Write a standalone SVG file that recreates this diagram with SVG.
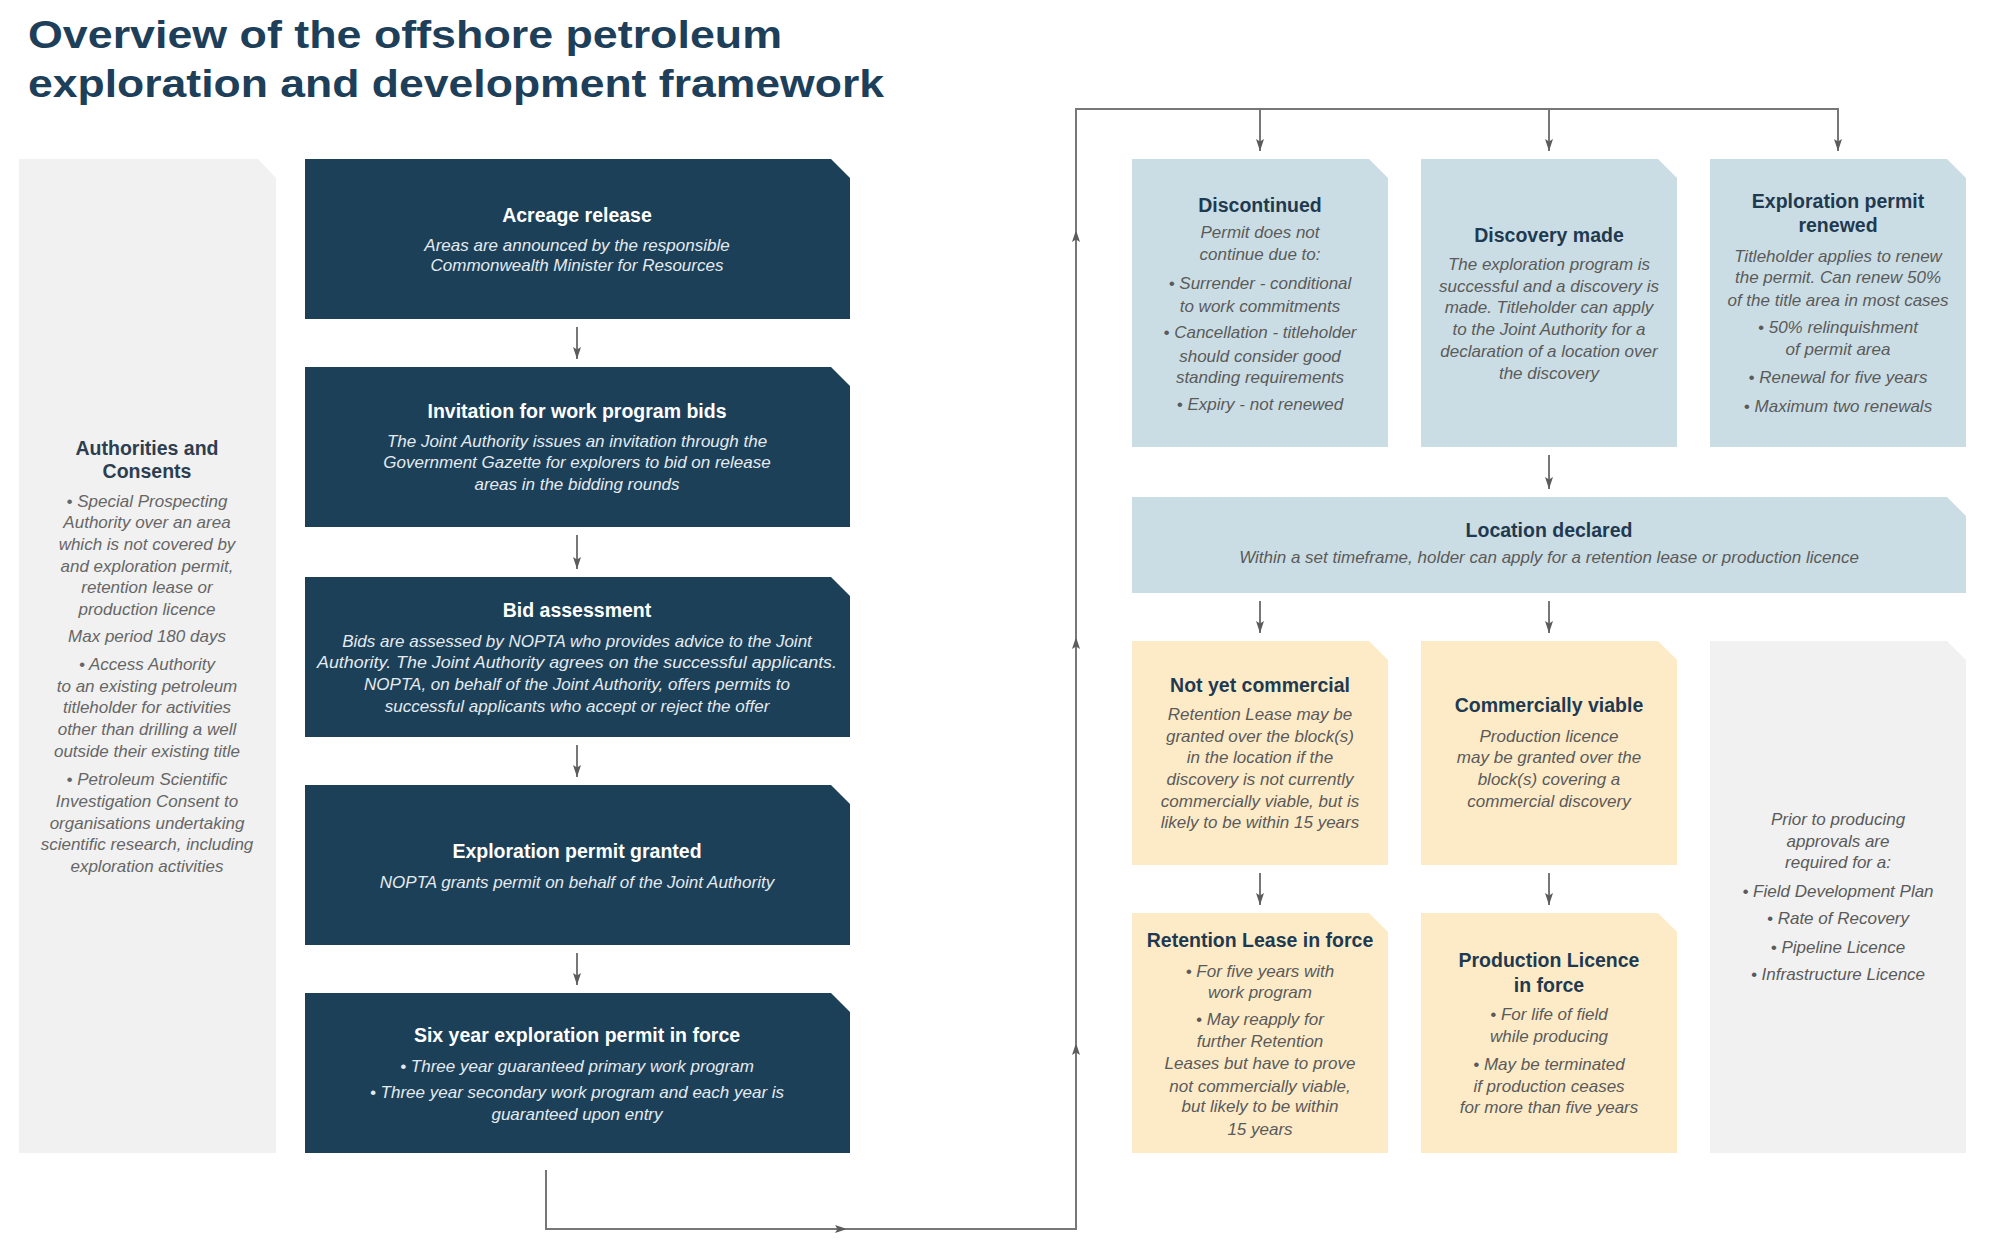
<svg xmlns="http://www.w3.org/2000/svg" width="1989" height="1251" viewBox="0 0 1989 1251">
<defs>
<marker id="arr" markerUnits="userSpaceOnUse" viewBox="0 0 12 8" refX="12" refY="4" markerWidth="12" markerHeight="8" orient="auto">
<path d="M0,0 L12,4 L0,8 L2.5,4 Z" fill="#5c5c5c"/>
</marker>
<style>
.dark{fill:#1d4059}
.lb{fill:#cbdde4}
.yl{fill:#fdebc8}
.gr{fill:#f1f1f1}
text{font-family:"Liberation Sans",Arial,sans-serif;text-anchor:middle}
.tw{font-weight:bold;font-size:19.5px;fill:#ffffff}
.iw{font-style:italic;font-size:17px;fill:#e4ebf0}
.td{font-weight:bold;font-size:19.5px;fill:#1f3a50}
.id{font-style:italic;font-size:17px;fill:#5a5a5a}
.tg{font-weight:bold;font-size:19.5px;fill:#2c3e50}
.ig{font-style:italic;font-size:17px;fill:#666666}
.title{font-weight:bold;font-size:39px;fill:#1e3f5a;text-anchor:start}
.con{fill:none;stroke:#777777;stroke-width:2}
.sarr{fill:none;stroke:#555555;stroke-width:1.6}
</style>
</defs>
<rect width="1989" height="1251" fill="#ffffff"/>

<g id="title">
<text class="title" x="28" y="48" textLength="754" lengthAdjust="spacingAndGlyphs">Overview of the offshore petroleum</text>
<text class="title" x="28" y="97" textLength="856" lengthAdjust="spacingAndGlyphs">exploration and development framework</text>
</g>

<g id="authorities">
<path class="gr" d="M19,159 H258 L276,178 V1153 H19 Z"/>
<text class="tg" x="147" y="455">Authorities and</text>
<text class="tg" x="147" y="478">Consents</text>
<text class="ig" x="147" y="507">• Special Prospecting</text>
<text class="ig" x="147" y="528">Authority over an area</text>
<text class="ig" x="147" y="550">which is not covered by</text>
<text class="ig" x="147" y="572">and exploration permit,</text>
<text class="ig" x="147" y="593">retention lease or</text>
<text class="ig" x="147" y="615">production licence</text>
<text class="ig" x="147" y="642">Max period 180 days</text>
<text class="ig" x="147" y="670">• Access Authority</text>
<text class="ig" x="147" y="692">to an existing petroleum</text>
<text class="ig" x="147" y="713">titleholder for activities</text>
<text class="ig" x="147" y="735">other than drilling a well</text>
<text class="ig" x="147" y="757">outside their existing title</text>
<text class="ig" x="147" y="785">• Petroleum Scientific</text>
<text class="ig" x="147" y="807">Investigation Consent to</text>
<text class="ig" x="147" y="829">organisations undertaking</text>
<text class="ig" x="147" y="850">scientific research, including</text>
<text class="ig" x="147" y="872">exploration activities</text>
</g>

<g transform="translate(-3,0)">
<g id="acreage-release">
<path class="dark" d="M308,159 H834 L853,178 V319 H308 Z"/>
<text class="tw" x="580" y="222">Acreage release</text>
<text class="iw" x="580" y="251">Areas are announced by the responsible</text>
<text class="iw" x="580" y="271">Commonwealth Minister for Resources</text>
</g>

<g id="invitation">
<path class="dark" d="M308,367 H834 L853,386 V527 H308 Z"/>
<text class="tw" x="580" y="418">Invitation for work program bids</text>
<text class="iw" x="580" y="447">The Joint Authority issues an invitation through the</text>
<text class="iw" x="580" y="468">Government Gazette for explorers to bid on release</text>
<text class="iw" x="580" y="490">areas in the bidding rounds</text>
</g>

<g id="bid-assessment">
<path class="dark" d="M308,577 H834 L853,596 V737 H308 Z"/>
<text class="tw" x="580" y="617">Bid assessment</text>
<text class="iw" x="580" y="647">Bids are assessed by NOPTA who provides advice to the Joint</text>
<text class="iw" x="580" y="668" textLength="520" lengthAdjust="spacingAndGlyphs">Authority. The Joint Authority agrees on the successful applicants.</text>
<text class="iw" x="580" y="690">NOPTA, on behalf of the Joint Authority, offers permits to</text>
<text class="iw" x="580" y="712">successful applicants who accept or reject the offer</text>
</g>

<g id="permit-granted">
<path class="dark" d="M308,785 H834 L853,804 V945 H308 Z"/>
<text class="tw" x="580" y="858">Exploration permit granted</text>
<text class="iw" x="580" y="888">NOPTA grants permit on behalf of the Joint Authority</text>
</g>

<g id="permit-in-force">
<path class="dark" d="M308,993 H834 L853,1012 V1153 H308 Z"/>
<text class="tw" x="580" y="1042">Six year exploration permit in force</text>
<text class="iw" x="580" y="1072">• Three year guaranteed primary work program</text>
<text class="iw" x="580" y="1098">• Three year secondary work program and each year is</text>
<text class="iw" x="580" y="1120">guaranteed upon entry</text>
</g>

<g id="discontinued">
<path class="lb" d="M1135,159 H1372 L1391,178 V447 H1135 Z"/>
<text class="td" x="1263" y="212">Discontinued</text>
<text class="id" x="1263" y="238">Permit does not</text>
<text class="id" x="1263" y="260">continue due to:</text>
<text class="id" x="1263" y="289">• Surrender - conditional</text>
<text class="id" x="1263" y="312">to work commitments</text>
<text class="id" x="1263" y="338">• Cancellation - titleholder</text>
<text class="id" x="1263" y="362">should consider good</text>
<text class="id" x="1263" y="383">standing requirements</text>
<text class="id" x="1263" y="410">• Expiry - not renewed</text>
</g>

<g id="discovery-made">
<path class="lb" d="M1424,159 H1661 L1680,178 V447 H1424 Z"/>
<text class="td" x="1552" y="242">Discovery made</text>
<text class="id" x="1552" y="270">The exploration program is</text>
<text class="id" x="1552" y="292">successful and a discovery is</text>
<text class="id" x="1552" y="313">made. Titleholder can apply</text>
<text class="id" x="1552" y="335">to the Joint Authority for a</text>
<text class="id" x="1552" y="357">declaration of a location over</text>
<text class="id" x="1552" y="379">the discovery</text>
</g>

<g id="permit-renewed">
<path class="lb" d="M1713,159 H1950 L1969,178 V447 H1713 Z"/>
<text class="td" x="1841" y="208">Exploration permit</text>
<text class="td" x="1841" y="232">renewed</text>
<text class="id" x="1841" y="262">Titleholder applies to renew</text>
<text class="id" x="1841" y="283">the permit. Can renew 50%</text>
<text class="id" x="1841" y="306">of the title area in most cases</text>
<text class="id" x="1841" y="333">• 50% relinquishment</text>
<text class="id" x="1841" y="355">of permit area</text>
<text class="id" x="1841" y="383">• Renewal for five years</text>
<text class="id" x="1841" y="412">• Maximum two renewals</text>
</g>

<g id="location-declared">
<path class="lb" d="M1135,497 H1950 L1969,516 V593 H1135 Z"/>
<text class="td" x="1552" y="537">Location declared</text>
<text class="id" x="1552" y="563">Within a set timeframe, holder can apply for a retention lease or production licence</text>
</g>

<g id="not-yet-commercial">
<path class="yl" d="M1135,641 H1372 L1391,660 V865 H1135 Z"/>
<text class="td" x="1263" y="692">Not yet commercial</text>
<text class="id" x="1263" y="720">Retention Lease may be</text>
<text class="id" x="1263" y="742">granted over the block(s)</text>
<text class="id" x="1263" y="763">in the location if the</text>
<text class="id" x="1263" y="785">discovery is not currently</text>
<text class="id" x="1263" y="807">commercially viable, but is</text>
<text class="id" x="1263" y="828">likely to be within 15 years</text>
</g>

<g id="commercially-viable">
<path class="yl" d="M1424,641 H1661 L1680,660 V865 H1424 Z"/>
<text class="td" x="1552" y="712">Commercially viable</text>
<text class="id" x="1552" y="742">Production licence</text>
<text class="id" x="1552" y="763">may be granted over the</text>
<text class="id" x="1552" y="785">block(s) covering a</text>
<text class="id" x="1552" y="807">commercial discovery</text>
</g>

<g id="approvals">
<path class="gr" d="M1713,641 H1950 L1969,660 V1153 H1713 Z"/>
<text class="id" x="1841" y="825">Prior to producing</text>
<text class="id" x="1841" y="847">approvals are</text>
<text class="id" x="1841" y="868">required for a:</text>
<text class="id" x="1841" y="897">• Field Development Plan</text>
<text class="id" x="1841" y="924">• Rate of Recovery</text>
<text class="id" x="1841" y="953">• Pipeline Licence</text>
<text class="id" x="1841" y="980">• Infrastructure Licence</text>
</g>

<g id="retention-lease">
<path class="yl" d="M1135,913 H1372 L1391,932 V1153 H1135 Z"/>
<text class="td" x="1263" y="947">Retention Lease in force</text>
<text class="id" x="1263" y="977">• For five years with</text>
<text class="id" x="1263" y="998">work program</text>
<text class="id" x="1263" y="1025">• May reapply for</text>
<text class="id" x="1263" y="1047">further Retention</text>
<text class="id" x="1263" y="1069">Leases but have to prove</text>
<text class="id" x="1263" y="1092">not commercially viable,</text>
<text class="id" x="1263" y="1112">but likely to be within</text>
<text class="id" x="1263" y="1135">15 years</text>
</g>

<g id="production-licence">
<path class="yl" d="M1424,913 H1661 L1680,932 V1153 H1424 Z"/>
<text class="td" x="1552" y="967">Production Licence</text>
<text class="td" x="1552" y="992">in force</text>
<text class="id" x="1552" y="1020">• For life of field</text>
<text class="id" x="1552" y="1042">while producing</text>
<text class="id" x="1552" y="1070">• May be terminated</text>
<text class="id" x="1552" y="1092">if production ceases</text>
<text class="id" x="1552" y="1113">for more than five years</text>
</g>

<g id="connectors">
<path class="sarr" d="M580,327 V359" marker-end="url(#arr)"/>
<path class="sarr" d="M580,535 V569" marker-end="url(#arr)"/>
<path class="sarr" d="M580,745 V777" marker-end="url(#arr)"/>
<path class="sarr" d="M580,953 V985" marker-end="url(#arr)"/>
<path class="con" d="M549,1170 V1229 H850" marker-end="url(#arr)"/>
<path class="con" d="M848,1229 H1079 V1043" marker-end="url(#arr)"/>
<path class="con" d="M1079,1045 V637" marker-end="url(#arr)"/>
<path class="con" d="M1079,639 V230" marker-end="url(#arr)"/>
<path class="con" d="M1079,232 V109 H1841 V151" marker-end="url(#arr)"/>
<path class="con" d="M1263,109 V151" marker-end="url(#arr)"/>
<path class="con" d="M1552,109 V151" marker-end="url(#arr)"/>
<path class="sarr" d="M1552,455 V489" marker-end="url(#arr)"/>
<path class="sarr" d="M1263,601 V633" marker-end="url(#arr)"/>
<path class="sarr" d="M1552,601 V633" marker-end="url(#arr)"/>
<path class="sarr" d="M1263,873 V905" marker-end="url(#arr)"/>
<path class="sarr" d="M1552,873 V905" marker-end="url(#arr)"/>
</g>
</g>
</svg>
